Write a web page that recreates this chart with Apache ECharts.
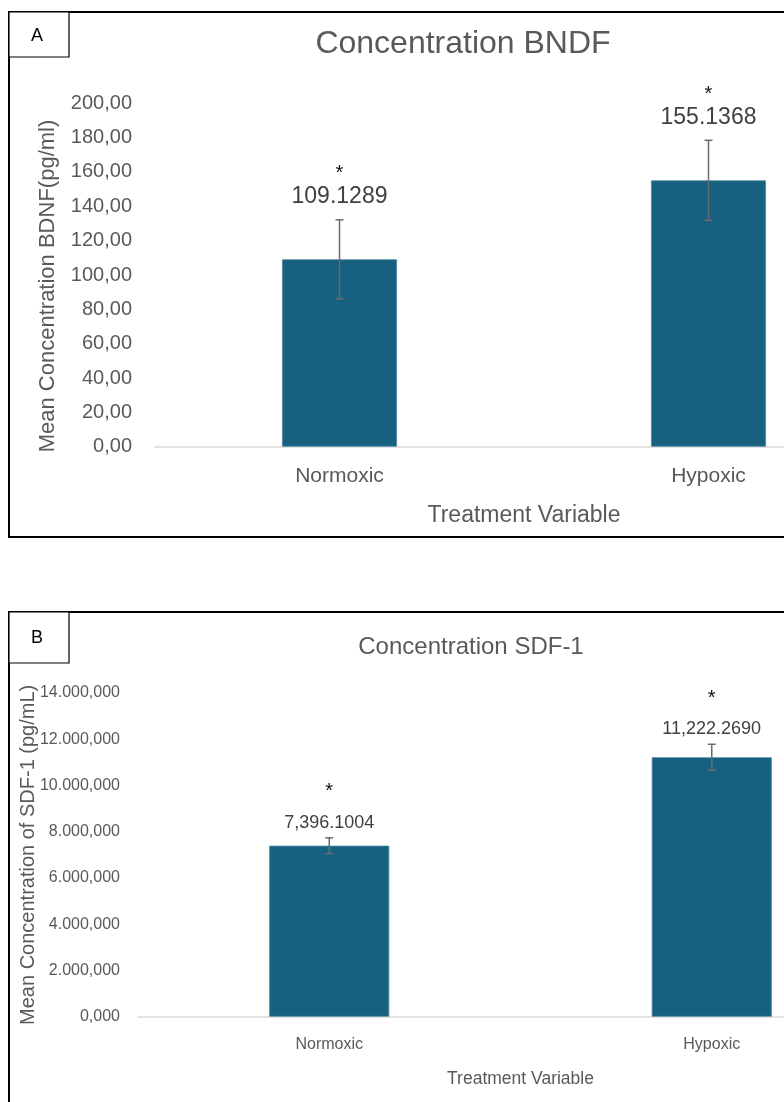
<!DOCTYPE html>
<html>
<head>
<meta charset="utf-8">
<script src="https://cdn.jsdelivr.net/npm/echarts@6/dist/echarts.min.js"></script>
<style>
  html, body { margin: 0; padding: 0; background: #fff; overflow: hidden; }
  #chart { width: 1000px; height: 1102px; }
</style>
</head>
<body>
<div id="chart"></div>
<script>
// Treatment groups
const categories = ['Normoxic', 'Hypoxic'];

// Panel A: BDNF concentration (pg/ml), mean and error
const bdnfMean = [109.1289, 155.1368];
const bdnfErr = [23.0, 23.3];
const bdnfTicks = ['0,00', '20,00', '40,00', '60,00', '80,00', '100,00', '120,00', '140,00', '160,00', '180,00', '200,00'];

// Panel B: SDF-1 concentration (pg/mL), mean and error
const sdfMean = [7396.1004, 11222.2690];
const sdfErr = [340, 560];
const sdfTicks = ['0,000', '2.000,000', '4.000,000', '6.000,000', '8.000,000', '10.000,000', '12.000,000', '14.000,000'];

const FONT = '"Liberation Sans", Arial, sans-serif';
const BAR_COLOR = '#176080';
const GREY_TEXT = '#595959';

function fmtA(v) { return v.toFixed(4); }
function fmtB(v) {
  const s = v.toFixed(4).split('.');
  return s[0].replace(/\B(?=(\d{3})+(?!\d))/g, ',') + '.' + s[1];
}

// Error bars with value label and significance star above them
function errorRenderer(means, fmt, labelSize, labelOff, starOff) {
  return function (params, api) {
    const i = api.value(0);
    const m = api.value(1);
    const e = api.value(2);
    const top = api.coord([i, m + e]);
    const bot = api.coord([i, m - e]);
    const cap = 4;
    const lineStyle = { stroke: '#6b6b6b', lineWidth: 1.5 };
    return {
      type: 'group',
      children: [
        { type: 'line', shape: { x1: top[0], y1: top[1], x2: bot[0], y2: bot[1] }, style: lineStyle },
        { type: 'line', shape: { x1: top[0] - cap, y1: top[1], x2: top[0] + cap, y2: top[1] }, style: lineStyle },
        { type: 'line', shape: { x1: bot[0] - cap, y1: bot[1], x2: bot[0] + cap, y2: bot[1] }, style: lineStyle },
        {
          type: 'text',
          style: {
            text: fmt(means[params.dataIndex]), x: top[0], y: top[1] + labelOff,
            align: 'center', verticalAlign: 'middle',
            fontFamily: FONT, fontSize: labelSize, fill: '#404040'
          }
        },
        {
          type: 'text',
          style: {
            text: '*', x: top[0], y: top[1] + starOff + 4,
            align: 'center', verticalAlign: 'middle',
            fontFamily: FONT, fontSize: 20, fill: '#111'
          }
        }
      ]
    };
  };
}

const chart = echarts.init(document.getElementById('chart'), null, { renderer: 'canvas' });

chart.setOption({
  backgroundColor: '#fff',
  animation: false,
  title: [
    {
      text: 'Concentration BNDF', left: 458, top: 23, textAlign: 'center',
      textStyle: { fontFamily: FONT, fontSize: 32, fontWeight: 'normal', color: GREY_TEXT }
    },
    {
      text: 'Concentration SDF-1', left: 466, top: 630, textAlign: 'center',
      textStyle: { fontFamily: FONT, fontSize: 24, fontWeight: 'normal', color: GREY_TEXT }
    }
  ],
  grid: [
    { left: 155, top: 103.3, width: 738, height: 343.4, containLabel: false },
    { left: 138, top: 693, width: 765, height: 323.7, containLabel: false }
  ],
  xAxis: [
    {
      type: 'category', gridIndex: 0, data: categories,
      name: 'Treatment Variable', nameLocation: 'middle', nameGap: 57,
      nameTextStyle: { fontFamily: FONT, fontSize: 23, color: GREY_TEXT },
      axisLine: { lineStyle: { color: '#d9d9d9', width: 1.5 } },
      axisTick: { show: false },
      axisLabel: { fontFamily: FONT, fontSize: 21, color: GREY_TEXT, margin: 19 }
    },
    {
      type: 'category', gridIndex: 1, data: categories,
      name: 'Treatment Variable', nameLocation: 'middle', nameGap: 53,
      nameTextStyle: { fontFamily: FONT, fontSize: 17.5, color: GREY_TEXT },
      axisLine: { lineStyle: { color: '#d9d9d9', width: 1.5 } },
      axisTick: { show: false },
      axisLabel: { fontFamily: FONT, fontSize: 16, color: GREY_TEXT, margin: 20 }
    }
  ],
  yAxis: [
    {
      type: 'value', gridIndex: 0, min: 0, max: 200, interval: 20,
      name: 'Mean Concentration BDNF(pg/ml)', nameLocation: 'middle', nameGap: 96,
      nameTextStyle: { fontFamily: FONT, fontSize: 22, color: GREY_TEXT, padding: [0, 22, 0, 0] },
      axisLine: { show: false }, axisTick: { show: false }, splitLine: { show: false },
      axisLabel: {
        fontFamily: FONT, fontSize: 20, color: GREY_TEXT, margin: 23,
        formatter: v => bdnfTicks[Math.round(v / 20)]
      }
    },
    {
      type: 'value', gridIndex: 1, min: 0, max: 14000, interval: 2000,
      name: 'Mean Concentration of SDF-1 (pg/mL)', nameLocation: 'middle', nameGap: 100,
      nameMoveOverlap: false,
      nameTextStyle: { fontFamily: FONT, fontSize: 20, color: GREY_TEXT },
      axisLine: { show: false }, axisTick: { show: false }, splitLine: { show: false },
      axisLabel: {
        fontFamily: FONT, fontSize: 16, color: GREY_TEXT, margin: 18,
        formatter: v => sdfTicks[Math.round(v / 2000)]
      }
    }
  ],
  series: [
    {
      type: 'bar', xAxisIndex: 0, yAxisIndex: 0, data: bdnfMean, barWidth: 115,
      itemStyle: { color: BAR_COLOR, borderColor: '#4d88a3', borderWidth: 0.8 }
    },
    {
      type: 'custom', xAxisIndex: 0, yAxisIndex: 0, clip: false, z: 5,
      data: bdnfMean.map((m, i) => [i, m, bdnfErr[i]]),
      renderItem: errorRenderer(bdnfMean, fmtA, 23, -23, -50)
    },
    {
      type: 'bar', xAxisIndex: 1, yAxisIndex: 1, data: sdfMean, barWidth: 120,
      itemStyle: { color: BAR_COLOR, borderColor: '#4d88a3', borderWidth: 0.8 }
    },
    {
      type: 'custom', xAxisIndex: 1, yAxisIndex: 1, clip: false, z: 5,
      data: sdfMean.map((m, i) => [i, m, sdfErr[i]]),
      renderItem: errorRenderer(sdfMean, fmtB, 18, -15, -50)
    }
  ],
  graphic: [
    // panel frames
    { type: 'rect', shape: { x: 9, y: 12, width: 950, height: 525 }, style: { fill: 'none', stroke: '#000', lineWidth: 2 }, silent: true },
    { type: 'rect', shape: { x: 9, y: 612, width: 950, height: 600 }, style: { fill: 'none', stroke: '#000', lineWidth: 2 }, silent: true },
    // panel letter boxes
    { type: 'rect', shape: { x: 9, y: 12, width: 60, height: 45 }, style: { fill: '#fff', stroke: '#000', lineWidth: 1.2 }, silent: true },
    { type: 'text', style: { text: 'A', x: 37, y: 36, align: 'center', verticalAlign: 'middle', fontFamily: FONT, fontSize: 18, fill: '#000' } },
    { type: 'rect', shape: { x: 9, y: 612, width: 60, height: 51 }, style: { fill: '#fff', stroke: '#000', lineWidth: 1.2 }, silent: true },
    { type: 'text', style: { text: 'B', x: 37, y: 638, align: 'center', verticalAlign: 'middle', fontFamily: FONT, fontSize: 18, fill: '#000' } }
  ]
});
</script>
</body>
</html>
